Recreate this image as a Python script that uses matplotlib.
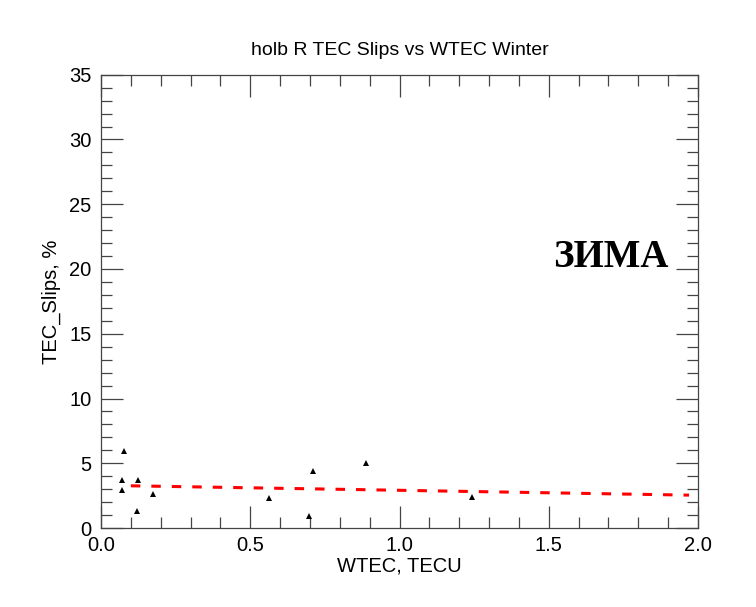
import matplotlib
matplotlib.use("Agg")
import matplotlib.pyplot as plt
from matplotlib.ticker import MultipleLocator

# Data
wtec = [0.077, 0.072, 0.072, 0.125, 0.120, 0.174, 0.564, 0.697, 0.709, 0.887, 1.242]
slips = [5.95, 3.67, 2.95, 3.74, 1.28, 2.59, 2.30, 0.92, 4.44, 5.05, 2.36]
fit_x = [0.10, 1.97]
fit_y = [3.26, 2.54]

title = "holb R TEC Slips vs WTEC Winter"
xlabel = "WTEC, TECU"
ylabel = "TEC_Slips, %"
season = "ЗИМА"

plt.rcParams['font.family'] = ['Liberation Sans', 'DejaVu Sans']

fig = plt.figure(figsize=(7.56, 6.07), dpi=100)
ax = fig.add_axes([0.1336, 0.1301, 0.9233 - 0.1336, 0.8769 - 0.1301])

ax.plot(wtec, slips, linestyle='none', marker='^', markersize=5,
        color='black', markeredgewidth=0)
ax.plot(fit_x, fit_y, color='#ff0000', linewidth=2.2,
        linestyle=(0, (3.1, 3.6)), dash_capstyle='butt')

ax.set_xlim(0, 2.0)
ax.set_ylim(0, 35)
ax.xaxis.set_major_locator(MultipleLocator(0.5))
ax.xaxis.set_minor_locator(MultipleLocator(0.1))
ax.yaxis.set_major_locator(MultipleLocator(5))
ax.yaxis.set_minor_locator(MultipleLocator(1))
ax.xaxis.set_major_formatter(matplotlib.ticker.FormatStrFormatter('%.1f'))
ax.yaxis.set_major_formatter(matplotlib.ticker.FormatStrFormatter('%d'))

edge = '#444444'
for s in ax.spines.values():
    s.set_color(edge)
    s.set_linewidth(0.9)
ax.tick_params(which='both', direction='in', top=True, right=True,
               color=edge, width=0.9, labelsize=14.5, labelcolor='black')
ax.tick_params(which='major', length=15.8)
ax.tick_params(which='minor', length=7.9)
ax.tick_params(axis='x', which='major', pad=6)
ax.tick_params(axis='y', which='major', pad=7)

ax.set_title(title, fontsize=14, pad=14)
ax.set_xlabel(xlabel, fontsize=14.5, labelpad=1)
ax.set_ylabel(ylabel, fontsize=14.5, labelpad=6)

ax.text(0.950, 0.597, season, transform=ax.transAxes, ha='right', va='center',
        fontsize=28, fontweight='bold', family=['Liberation Serif', 'DejaVu Serif'])

fig.savefig("out.png", dpi=100)
